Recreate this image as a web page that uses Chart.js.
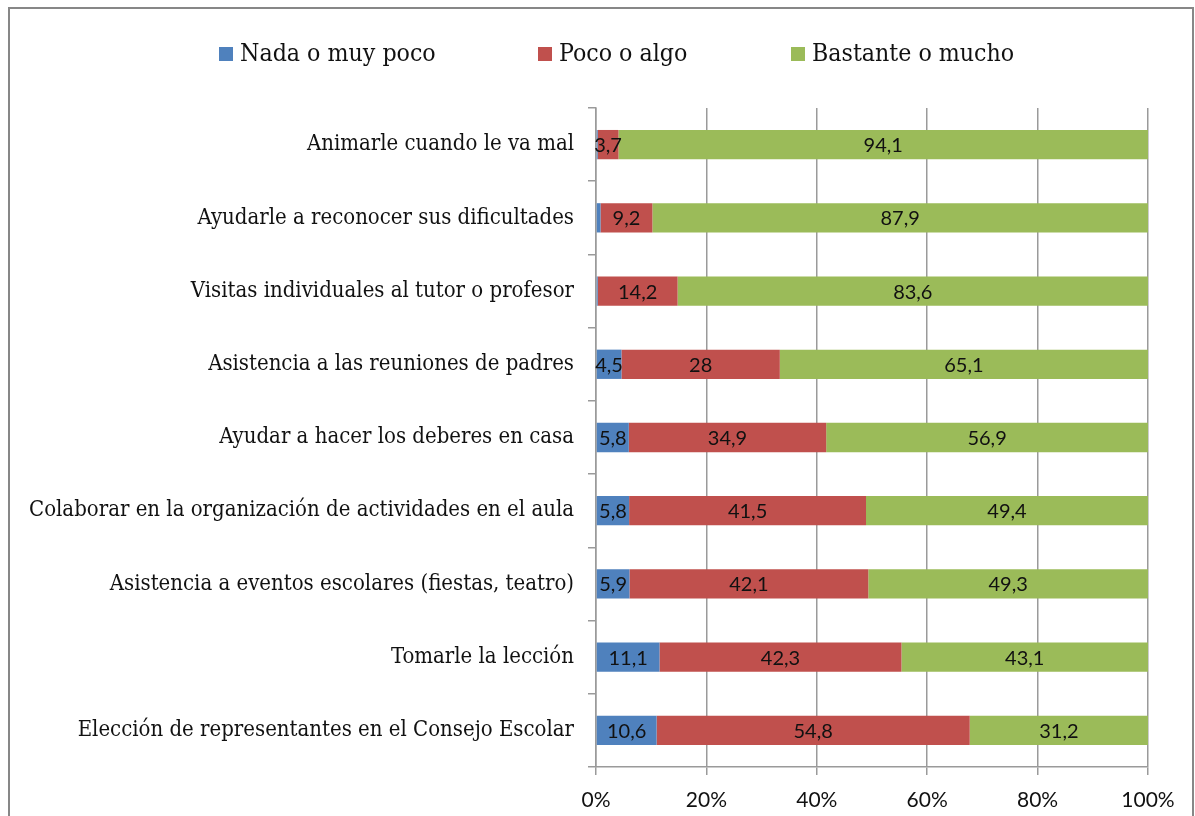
<!DOCTYPE html>
<html><head><meta charset="utf-8">
<script src="https://cdn.jsdelivr.net/npm/chart.js@4/dist/chart.umd.min.js"></script>
<style>html,body{margin:0;padding:0;background:#fff;overflow:hidden}</style>
</head><body><canvas id="c" width="1195" height="816"></canvas>
<script>
const categories = [
  'Animarle cuando le va mal',
  'Ayudarle a reconocer sus dificultades',
  'Visitas individuales al tutor o profesor',
  'Asistencia a las reuniones de padres',
  'Ayudar a hacer los deberes en casa',
  'Colaborar en la organización de actividades en el aula',
  'Asistencia a eventos escolares (fiestas, teatro)',
  'Tomarle la lección',
  'Elección de representantes en el Consejo Escolar'
];
const seriesNames = ['Nada o muy poco', 'Poco o algo', 'Bastante o mucho'];
const nada = [0.3, 0.8, 0.3, 4.5, 5.8, 5.8, 5.9, 11.1, 10.6];
const poco = [3.7, 9.2, 14.2, 28, 34.9, 41.5, 42.1, 42.3, 54.8];
const bastante = [94.1, 87.9, 83.6, 65.1, 56.9, 49.4, 49.3, 43.1, 31.2];
const xTickValues = [0, 20, 40, 60, 80, 100];

const colors = ['#4F81BD', '#C0504D', '#9BBB59'];
const raw = [nada, poco, bastante];
const totals = categories.map((_, i) => nada[i] + poco[i] + bastante[i]);
const pct = raw.map(arr => arr.map((v, i) => v / totals[i] * 100));

const mctx = document.createElement('canvas').getContext('2d');
function fitSize(text, family, target) {
  mctx.font = '100px ' + family;
  return 100 * target / mctx.measureText(text).width;
}
const SERIF = '"DejaVu Serif Condensed", "DejaVu Serif", serif';
const SANS = 'Lato, "Open Sans", sans-serif';
const catSize = (fitSize(categories[8], SERIF, 496) + fitSize(categories[5], SERIF, 546)) / 2;
const legSize = (fitSize(seriesNames[0], SERIF, 196) + fitSize(seriesNames[2], SERIF, 202)) / 2;
const GRID = '#9a9a9a';

const fmt = v => String(v).replace('.', ',');

const labelPlugin = {
  id: 'segLabels',
  afterDatasetsDraw(chart) {
    const ctx = chart.ctx;
    ctx.save();
    ctx.font = '20px ' + SANS;
    ctx.fillStyle = '#111';
    ctx.textAlign = 'center';
    ctx.textBaseline = 'middle';
    chart.data.datasets.forEach((ds, di) => {
      const meta = chart.getDatasetMeta(di);
      meta.data.forEach((bar, i) => {
        const v = raw[di][i];
        if (v < 1) return;
        const cx = (bar.x + bar.base) / 2;
        ctx.fillText(fmt(v), cx, bar.y + 1);
      });
    });
    ctx.restore();
  }
};

const framePlugin = {
  id: 'frame',
  afterDraw(chart) {
    const ctx = chart.ctx;
    ctx.save();
    ctx.strokeStyle = '#878787';
    ctx.lineWidth = 2;
    ctx.strokeRect(9, 8, 1184, 830);
    const sq = [219, 538, 791];
    ctx.font = legSize + 'px ' + SERIF;
    ctx.textBaseline = 'middle';
    ctx.textAlign = 'left';
    seriesNames.forEach((name, i) => {
      ctx.fillStyle = colors[i];
      ctx.fillRect(sq[i], 47, 14, 14);
      ctx.fillStyle = '#111';
      ctx.fillText(name, sq[i] + 21, 55);
    });
    ctx.restore();
  }
};

new Chart(document.getElementById('c'), {
  type: 'bar',
  data: {
    labels: categories,
    datasets: seriesNames.map((name, i) => ({
      label: name,
      data: pct[i],
      backgroundColor: colors[i],
      borderWidth: 0,
      barPercentage: 0.4,
      categoryPercentage: 1
    }))
  },
  options: {
    indexAxis: 'y',
    responsive: false,
    animation: false,
    layout: { padding: { top: 108, right: 47, bottom: 0, left: 0 } },
    plugins: { legend: { display: false }, tooltip: { enabled: false } },
    scales: {
      x: {
        stacked: true,
        min: 0, max: 100,
        afterBuildTicks(scale) { scale.ticks = xTickValues.map(v => ({ value: v })); },
        afterFit(scale) { scale.height = 49; },
        ticks: {
          callback: v => v + '%',
          font: { family: SANS, size: 21 },
          color: '#111',
          padding: 13
        },
        grid: { color: GRID, lineWidth: 1.5, tickLength: 8 },
        border: { color: GRID, width: 1.5 }
      },
      y: {
        stacked: true,
        afterFit(scale) { scale.width = 596; },
        ticks: {
          font: { family: SERIF, size: catSize },
          color: '#111',
          padding: 14
        },
        grid: { drawOnChartArea: false, offset: true, tickLength: 8, color: GRID, lineWidth: 1.5 },
        border: { color: GRID, width: 1.5 }
      }
    }
  },
  plugins: [labelPlugin, framePlugin]
});
</script>
</body></html>
